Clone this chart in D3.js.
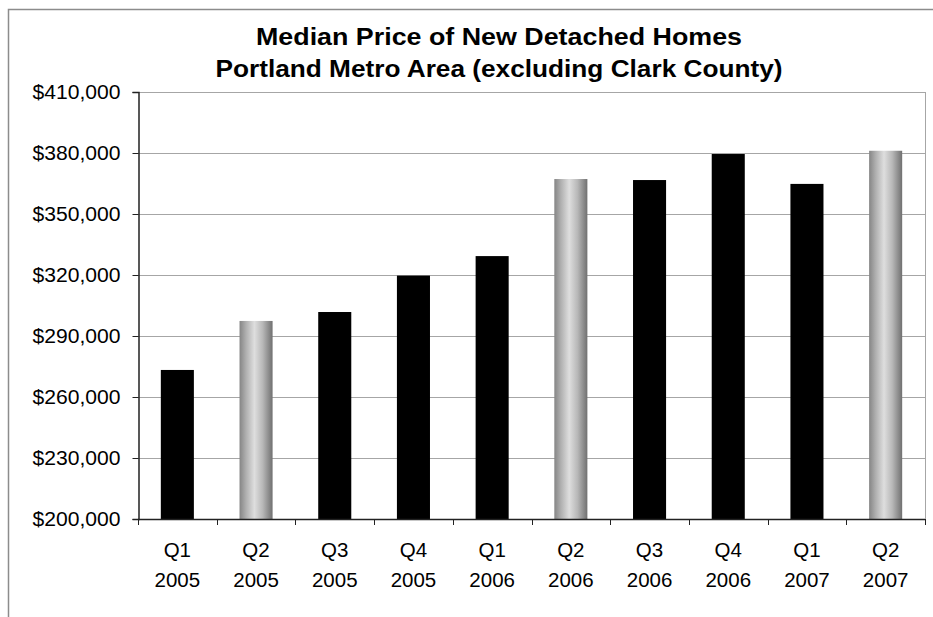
<!DOCTYPE html>
<html>
<head>
<meta charset="utf-8">
<script src="https://cdn.jsdelivr.net/npm/d3@7"></script>
<style>
  html, body { margin: 0; padding: 0; background: #fff; }
  svg { display: block; font-family: "Liberation Sans", Arial, sans-serif; }
</style>
</head>
<body>
<svg id="chart" width="933" height="617"></svg>
<script>
const titleLines = ["Median Price of New Detached Homes", "Portland Metro Area (excluding Clark County)"];
const quarters = ["Q1","Q2","Q3","Q4","Q1","Q2","Q3","Q4","Q1","Q2"];
const years = ["2005","2005","2005","2005","2006","2006","2006","2006","2007","2007"];
const prices = [273300, 297400, 301800, 319700, 329300, 367200, 366700, 379500, 364800, 381100];
const highlighted = [false, true, false, false, false, true, false, false, false, true];
const yTicks = [200000, 230000, 260000, 290000, 320000, 350000, 380000, 410000];

(function () {
const svg = d3.select("#chart");
const pLeft = 138, pRight = 925, pTop = 92, pBottom = 519;

// outer frame
svg.append("rect").attr("x", 8.5).attr("y", 9.5).attr("width", 1000).attr("height", 1000)
  .attr("fill", "none").attr("stroke", "#8c8c8c").attr("stroke-width", 1.5);

const defs = svg.append("defs");
const grad = defs.append("linearGradient").attr("id", "cyl").attr("x1", "0%").attr("x2", "100%");
[[0, "#858585"], [0.2, "#b0b0b0"], [0.45, "#dedede"], [0.7, "#b8b8b8"], [1, "#707070"]]
  .forEach(([o, c]) => grad.append("stop").attr("offset", o).attr("stop-color", c));

const x = d3.scaleBand().domain(d3.range(quarters.length)).range([pLeft, pRight]).paddingInner(0.58).paddingOuter(0.29);
const y = d3.scaleLinear().domain([200000, 410000]).range([pBottom, pTop]);

// gridlines
svg.append("g").selectAll("line").data(yTicks.slice(1)).join("line")
  .attr("x1", pLeft).attr("x2", pRight)
  .attr("y1", d => Math.round(y(d)) + 0.5).attr("y2", d => Math.round(y(d)) + 0.5)
  .attr("stroke", "#a6a6a6").attr("stroke-width", 1);

// plot border right
svg.append("line").attr("x1", pRight + 0.5).attr("x2", pRight + 0.5).attr("y1", pTop).attr("y2", pBottom)
  .attr("stroke", "#a6a6a6");

// bars
svg.append("g").selectAll("rect").data(prices).join("rect")
  .attr("x", (d, i) => x(i))
  .attr("width", x.bandwidth())
  .attr("y", d => y(d))
  .attr("height", d => y(200000) - y(d))
  .attr("fill", (d, i) => highlighted[i] ? "url(#cyl)" : "#000");

// y axis
const yAxis = d3.axisLeft(y).tickValues(yTicks).tickSize(6).tickPadding(12)
  .tickFormat(d => "$" + d3.format(",")(d));
const gy = svg.append("g").attr("transform", `translate(${pLeft + 0.5},0)`).call(yAxis);
gy.select(".domain").attr("stroke", "#222").attr("stroke-width", 1.5);
gy.selectAll(".tick line").attr("stroke", "#222");
gy.selectAll(".tick text").attr("font-size", 20).attr("fill", "#000")
  .attr("font-family", "'Liberation Sans', Arial, sans-serif")
  .attr("textLength", 88).attr("lengthAdjust", "spacingAndGlyphs");

// x axis baseline and boundary ticks
const step = x.step();
const bounds = d3.range(quarters.length + 1).map(i => pLeft + i * step);
svg.append("line").attr("x1", pLeft).attr("x2", pRight).attr("y1", pBottom + 0.5).attr("y2", pBottom + 0.5)
  .attr("stroke", "#222").attr("stroke-width", 1.5);
svg.append("g").selectAll("line").data(bounds).join("line")
  .attr("x1", d => Math.round(d) + 0.5).attr("x2", d => Math.round(d) + 0.5)
  .attr("y1", pBottom).attr("y2", pBottom + 6).attr("stroke", "#222");

// x labels
const xl = svg.append("g").attr("font-size", 20.5).attr("text-anchor", "middle").attr("fill", "#000");
xl.selectAll("text.q").data(quarters).join("text").attr("class", "q")
  .attr("x", (d, i) => x(i) + x.bandwidth() / 2).attr("y", 557).text(d => d);
xl.selectAll("text.yr").data(years).join("text").attr("class", "yr")
  .attr("x", (d, i) => x(i) + x.bandwidth() / 2).attr("y", 587).text(d => d);

// title
const tw = [486, 567];
svg.append("g").selectAll("text").data(titleLines).join("text")
  .attr("x", 499).attr("y", (d, i) => 45 + i * 32)
  .attr("text-anchor", "middle").attr("font-weight", "bold").attr("font-size", 23)
  .attr("textLength", (d, i) => tw[i]).attr("lengthAdjust", "spacingAndGlyphs")
  .attr("fill", "#000").text(d => d);
})();
</script>
</body>
</html>
